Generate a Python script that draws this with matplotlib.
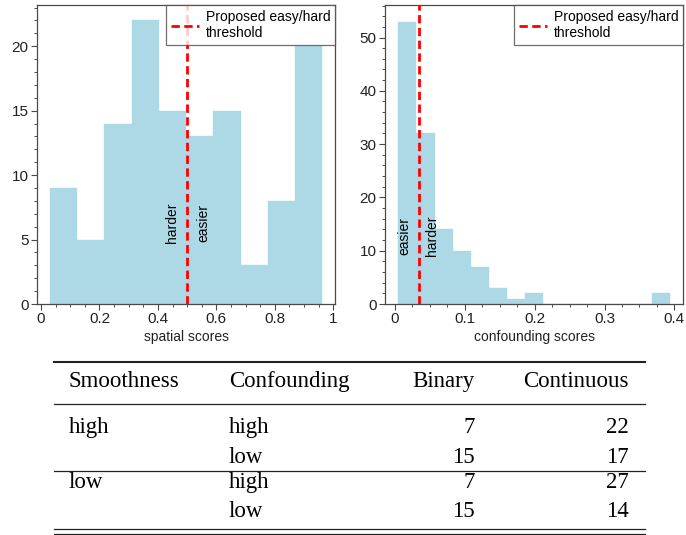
import numpy as np
import matplotlib
matplotlib.use("Agg")
import matplotlib.pyplot as plt
from matplotlib.ticker import MultipleLocator, FuncFormatter
from matplotlib.lines import Line2D

# ---------------- data ----------------
spatial_edges = [0.031, 0.1241, 0.2172, 0.3103, 0.4034, 0.4965, 0.5896, 0.6827, 0.7758, 0.8689, 0.962]
spatial_counts = [9, 5, 14, 22, 15, 13, 15, 3, 8, 20]
spatial_threshold = 0.5

conf_edges = [0.0048, 0.0308, 0.0567, 0.0827, 0.1086, 0.1346, 0.1605, 0.1865,
              0.2124, 0.2384, 0.2643, 0.2903, 0.3162, 0.3422, 0.3681, 0.394]
conf_counts = [53, 32, 14, 10, 7, 3, 1, 2, 0, 0, 0, 0, 0, 0, 2]
conf_threshold = 0.0344

legend_label = "Proposed easy/hard\nthreshold"

table_header = ["Smoothness", "Confounding", "Binary", "Continuous"]
table_smooth = ["high", "", "low", ""]
table_conf = ["high", "low", "high", "low"]
table_binary = [7, 15, 7, 15]
table_continuous = [22, 17, 27, 14]

# ---------------- style ----------------
plt.rcParams['font.family'] = ['Liberation Sans', 'DejaVu Sans']
SPINE = '#4a4a4a'
BAR = '#add8e6'

fig = plt.figure(figsize=(6.86, 5.35), dpi=100)
W, H = 686, 535

def fmt(v, pos):
    return '%g' % round(v, 6)

def style_axes(ax, xlim, ylim, xmaj, xmin, ymaj, ymin):
    ax.set_xlim(*xlim)
    ax.set_ylim(*ylim)
    ax.xaxis.set_major_locator(MultipleLocator(xmaj))
    ax.xaxis.set_minor_locator(MultipleLocator(xmin))
    ax.yaxis.set_major_locator(MultipleLocator(ymaj))
    ax.yaxis.set_minor_locator(MultipleLocator(ymin))
    ax.xaxis.set_major_formatter(FuncFormatter(fmt))
    ax.tick_params(which='both', direction='out', top=False, right=False,
                   color=SPINE, labelcolor='#222222', labelsize=11, pad=2)
    ax.tick_params(which='major', length=4, width=0.8)
    ax.tick_params(which='minor', length=2.5, width=0.7)
    for s in ax.spines.values():
        s.set_color(SPINE)
        s.set_linewidth(0.9)

def draw_hist(ax, edges, counts, thr):
    edges = np.asarray(edges)
    ax.bar(edges[:-1], counts, width=np.diff(edges), align='edge',
           color=BAR, edgecolor=BAR, linewidth=0.3, zorder=1)
    ax.axvline(thr, color='red', linestyle=(0, (3, 1.6)), linewidth=2.0,
               zorder=3, label=legend_label)
    leg = ax.legend(loc='upper right', borderaxespad=0, fancybox=False,
                    edgecolor=SPINE, framealpha=0.8, fontsize=10,
                    handlelength=2.0, borderpad=0.35, labelspacing=0.2,
                    handletextpad=0.5)
    leg.get_frame().set_linewidth(0.9)

# left histogram
ax1 = fig.add_axes([37 / W, 1 - 304 / H, 298 / W, 299 / H])
draw_hist(ax1, spatial_edges, spatial_counts, spatial_threshold)
style_axes(ax1, (-0.0137, 1.006), (0, 23.2), 0.2, 0.05, 5, 1)
ax1.set_xlabel('spatial scores', fontsize=10, labelpad=3, color='#222222')
ax1.text(0.447, 6.3, 'harder', rotation=90, ha='center', va='center', fontsize=10)
ax1.text(0.556, 6.3, 'easier', rotation=90, ha='center', va='center', fontsize=10)

# right histogram
ax2 = fig.add_axes([385 / W, 1 - 304 / H, 298 / W, 299 / H])
draw_hist(ax2, conf_edges, conf_counts, conf_threshold)
style_axes(ax2, (-0.0143, 0.4124), (0, 56.1), 0.1, 0.025, 10, 2)
ax2.set_xlabel('confounding scores', fontsize=10, labelpad=3, color='#222222')
ax2.text(0.0136, 12.7, 'easier', rotation=90, ha='center', va='center', fontsize=10)
ax2.text(0.0535, 12.8, 'harder', rotation=90, ha='center', va='center', fontsize=10)

# ---------------- table ----------------
tab = fig.add_axes([0, 0, 1, 1])
tab.set_xlim(0, W)
tab.set_ylim(H, 0)
tab.axis('off')

serif = ['Liberation Serif', 'DejaVu Serif']
tfs = 16.5
x_left = [69, 229]
x_right = [475, 629]
header_y = 387
row_y = [433, 462.7, 488, 516.7]

tab.text(x_left[0], header_y, table_header[0], ha='left', va='baseline', fontsize=tfs, family=serif)
tab.text(x_left[1], header_y, table_header[1], ha='left', va='baseline', fontsize=tfs, family=serif)
tab.text(x_right[0], header_y, table_header[2], ha='right', va='baseline', fontsize=tfs, family=serif)
tab.text(x_right[1], header_y, table_header[3], ha='right', va='baseline', fontsize=tfs, family=serif)

for i, y in enumerate(row_y):
    tab.text(x_left[0], y, table_smooth[i], ha='left', va='baseline', fontsize=tfs, family=serif)
    tab.text(x_left[1], y, table_conf[i], ha='left', va='baseline', fontsize=tfs, family=serif)
    tab.text(x_right[0], y, str(table_binary[i]), ha='right', va='baseline', fontsize=tfs, family=serif)
    tab.text(x_right[1], y, str(table_continuous[i]), ha='right', va='baseline', fontsize=tfs, family=serif)

LC = '#222222'
for y, lw in [(362, 1.5), (404, 0.9), (471, 0.9), (529.3, 0.9), (534, 0.9)]:
    tab.add_line(Line2D([54, 645], [y, y], color=LC, linewidth=lw))

fig.savefig('out.png', dpi=100)
